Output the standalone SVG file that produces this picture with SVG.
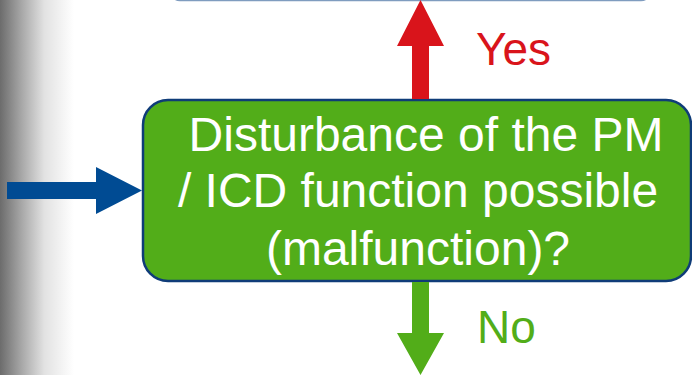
<svg xmlns="http://www.w3.org/2000/svg" width="692" height="375" viewBox="0 0 692 375">
  <defs>
    <linearGradient id="shade" x1="0" y1="0" x2="1" y2="0">
      <stop offset="0" stop-color="#6c6c6c"/>
      <stop offset="0.3" stop-color="#a9a9a9"/>
      <stop offset="0.6" stop-color="#e2e2e2"/>
      <stop offset="1" stop-color="#ffffff"/>
    </linearGradient>
  </defs>
  <style>
    .label { font-family: "Liberation Sans", Arial, sans-serif; font-size: 46px; }
    .node-text { font-family: "Liberation Sans", Arial, sans-serif; font-size: 48px; fill: #ffffff; text-anchor: middle; }
  </style>
  <rect x="0" y="0" width="692" height="375" fill="#ffffff"/>
  <rect x="0" y="0" width="74" height="375" fill="url(#shade)"/>

  <g id="node-top">
    <rect x="170" y="-60" width="481" height="60.5" rx="10" fill="#ffffff" stroke="#7f9cbf" stroke-width="1.5"/>
  </g>

  <g id="node-decision">
    <rect x="143" y="100" width="548" height="181" rx="25" fill="#52ad19" stroke="#0f3c78" stroke-width="2.5"/>
    <text class="node-text" x="426" y="151">Disturbance of the PM</text>
    <text class="node-text" x="418" y="207">/ ICD function possible</text>
    <text class="node-text" x="418" y="265">(malfunction)?</text>
  </g>

  <g id="connectors">
    <polygon points="420.5,0 444,46 429,46 429,99 412,99 412,46 397,46" fill="#d9141b"/>
    <polygon points="412,282 429,282 429,333 444,333 420.5,375 397,333 412,333" fill="#52ad19"/>
    <polygon points="7,182 96,182 96,167 142,190.5 96,214 96,199 7,199" fill="#004b93"/>
    <text class="label" x="476" y="65" fill="#d9141b">Yes</text>
    <text class="label" x="477" y="343" fill="#52ad19">No</text>
  </g>
</svg>
